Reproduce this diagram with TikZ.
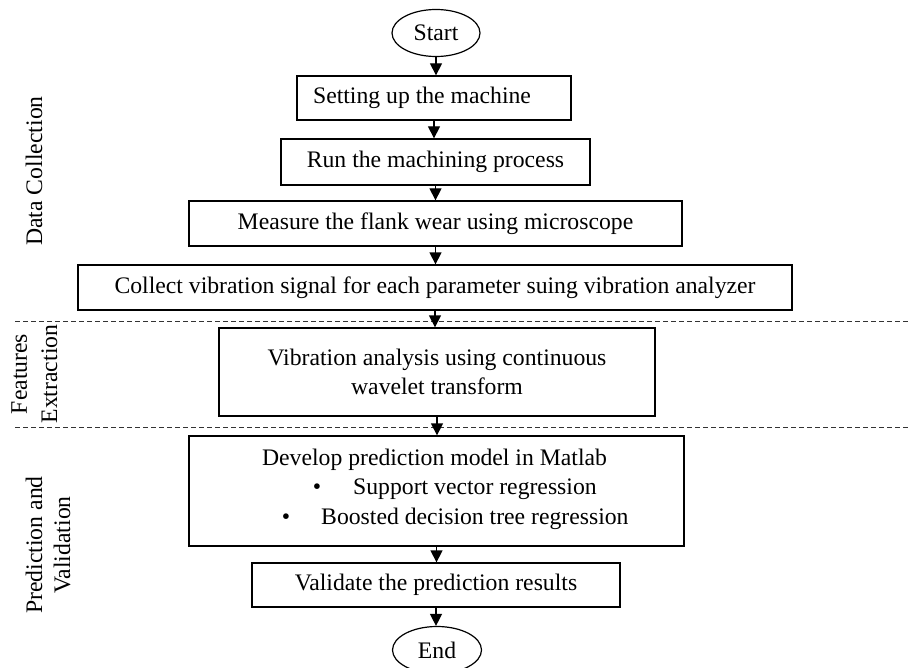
\documentclass[tikz,border=0pt]{standalone}
\usepackage{fontspec}
\setmainfont{Liberation Serif}
\usetikzlibrary{arrows.meta,shapes.geometric}
\begin{document}
\begin{tikzpicture}[x=1pt,y=-1pt,
  every node/.style={font=\fontsize{23.7}{29.5}\selectfont, inner sep=0pt, text=black},
  box/.style={draw=black, line width=1.3pt, rectangle, align=center},
  term/.style={draw=black, line width=1.2pt, ellipse},
  flow/.style={line width=1.3pt, -{Triangle[width=12pt,length=12pt]}},
  sep/.style={line width=1pt, black!80, dash pattern=on 5pt off 3pt},
  lab/.style={rotate=90, anchor=base}
]
\useasboundingbox (0,0) rectangle (909,668);

% terminals and boxes
\node[term, minimum width=88pt, minimum height=47pt] (s) at (436,33) {Start};
\node[box, minimum width=274pt, minimum height=44pt] (b1) at (434,98) {Setting up the machine\hspace*{24pt}};
\node[box, minimum width=309pt, minimum height=46pt] (b2) at (435.5,162) {Run the machining process};
\node[box, minimum width=493pt, minimum height=45pt] (b3) at (435.5,223.5) {Measure the flank wear using microscope};
\node[box, minimum width=714pt, minimum height=45pt] (b4) at (435,287.5) {Collect vibration signal for each parameter suing vibration analyzer};
\node[box, minimum width=436pt, minimum height=88pt] (b5) at (437,372) {Vibration analysis using continuous\\wavelet transform};
\node[box, minimum width=495pt, minimum height=110pt] (b6) at (436.5,491) {};
\node[box, minimum width=368pt, minimum height=44pt] (b7) at (436,585) {Validate the prediction results};
\node[term, minimum width=89pt, minimum height=47pt] (e) at (437,650) {End};

% contents of the model box
\node[anchor=base] (t1) at (434.5,465) {Develop prediction model in Matlab};
\node[anchor=base] (bu1) at (317,494) {\textbullet};
\node[anchor=base west] (t2) at (353,494) {Support vector regression};
\node[anchor=base] (bu2) at (286,524) {\textbullet};
\node[anchor=base west] (t3) at (321,524) {Boosted decision tree regression};

% section separators
\coordinate (d1l) at (15,321);
\coordinate (d1r) at (909,321);
\coordinate (d2l) at (15,427);
\coordinate (d2r) at (909,427);
\draw[sep] (d1l) -- (d1r);
\draw[sep] (d2l) -- (d2r);

% side labels
\node[lab] (l1) at (42,171) {Data Collection};
\node[lab] (l2a) at (27,374) {Features};
\node[lab] (l2b) at (57,374) {Extraction};
\node[lab] (l3a) at (42,545) {Prediction and};
\node[lab] (l3b) at (70,545) {Validation};

% connectors
\draw[flow] (s.south) -- (s.south |- b1.north);
\draw[flow] (b1.south) -- (b1.south |- b2.north);
\draw[flow] (b2.south) -- (b2.south |- b3.north);
\draw[flow] (b3.south) -- (b3.south |- b4.north);
\draw[flow] (b4.south) -- (b4.south |- b5.north);
\draw[flow] (b5.south) -- (b5.south |- b6.north);
\draw[flow] (b6.south) -- (b6.south |- b7.north);
\draw[flow] (b7.south) -- (b7.south |- e.north);
\end{tikzpicture}
\end{document}
